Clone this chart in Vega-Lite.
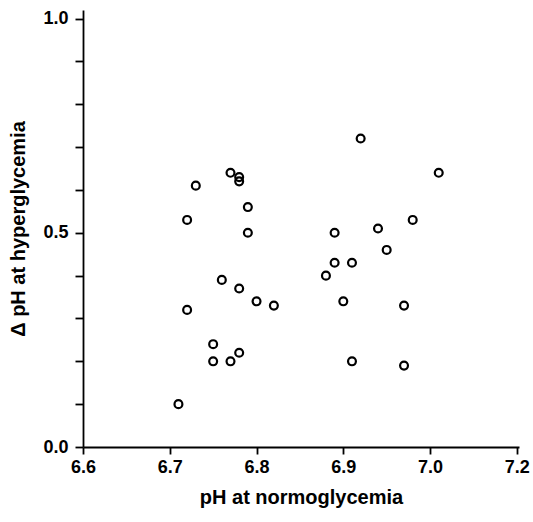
{
  "$schema": "https://vega.github.io/schema/vega-lite/v6.json",
  "width": 436,
  "height": 437,
  "autosize": {"type": "none"},
  "padding": {"left": 83, "top": 10, "right": 14, "bottom": 75},
  "background": "white",
  "config": {
    "view": {"stroke": null},
    "font": "Liberation Sans"
  },
  "data": {
    "values": [
      {"ph": 6.77, "dph": 0.64},
      {"ph": 6.78, "dph": 0.63},
      {"ph": 6.78, "dph": 0.62},
      {"ph": 6.73, "dph": 0.61},
      {"ph": 6.79, "dph": 0.56},
      {"ph": 6.72, "dph": 0.53},
      {"ph": 6.79, "dph": 0.50},
      {"ph": 6.76, "dph": 0.39},
      {"ph": 6.78, "dph": 0.37},
      {"ph": 6.80, "dph": 0.34},
      {"ph": 6.82, "dph": 0.33},
      {"ph": 6.72, "dph": 0.32},
      {"ph": 6.75, "dph": 0.24},
      {"ph": 6.75, "dph": 0.20},
      {"ph": 6.77, "dph": 0.20},
      {"ph": 6.78, "dph": 0.22},
      {"ph": 6.71, "dph": 0.10},
      {"ph": 6.92, "dph": 0.72},
      {"ph": 7.01, "dph": 0.64},
      {"ph": 6.98, "dph": 0.53},
      {"ph": 6.94, "dph": 0.51},
      {"ph": 6.89, "dph": 0.50},
      {"ph": 6.95, "dph": 0.46},
      {"ph": 6.89, "dph": 0.43},
      {"ph": 6.91, "dph": 0.43},
      {"ph": 6.88, "dph": 0.40},
      {"ph": 6.90, "dph": 0.34},
      {"ph": 6.97, "dph": 0.33},
      {"ph": 6.91, "dph": 0.20},
      {"ph": 6.97, "dph": 0.19}
    ]
  },
  "mark": {"type": "point", "shape": "circle", "filled": false, "stroke": "black", "strokeWidth": 2.2, "size": 62, "opacity": 1},
  "encoding": {
    "x": {
      "field": "ph",
      "type": "quantitative",
      "scale": {"domain": [6.6, 7.1025], "nice": false, "zero": false},
      "axis": {
        "title": "pH at normoglycemia",
        "values": [6.6, 6.7, 6.8, 6.9, 7.0, 7.1],
        "labelExpr": "datum.value > 7.05 ? '7.2' : format(datum.value, '.1f')",
        "grid": false,
        "domainColor": "black",
        "domainWidth": 1.8,
        "tickColor": "black",
        "tickWidth": 1.8,
        "tickSize": 7,
        "labelPadding": 4,
        "labelFontSize": 18,
        "labelFontWeight": "bold",
        "labelColor": "black",
        "labelOverlap": false,
        "labelFlush": false,
        "titleFontSize": 20,
        "titleFontWeight": "bold",
        "titleColor": "black",
        "titlePadding": 11
      }
    },
    "y": {
      "field": "dph",
      "type": "quantitative",
      "scale": {"domain": [0, 1.02], "nice": false, "zero": true},
      "axis": {
        "title": "Δ pH at hyperglycemia",
        "values": [0, 0.1, 0.2, 0.3, 0.4, 0.5, 0.6, 0.7, 0.8, 0.9, 1.0],
        "labelExpr": "(datum.value < 0.01 || abs(datum.value - 0.5) < 0.01 || datum.value > 0.99) ? format(datum.value, '.1f') : ''",
        "grid": false,
        "domainColor": "black",
        "domainWidth": 1.8,
        "tickColor": "black",
        "tickWidth": 1.8,
        "tickSize": 8,
        "labelPadding": 7,
        "labelFontSize": 18,
        "labelFontWeight": "bold",
        "labelColor": "black",
        "labelOverlap": false,
        "labelFlush": false,
        "titleFontSize": 20,
        "titleFontWeight": "bold",
        "titleColor": "black",
        "titlePadding": 14
      }
    }
  }
}
